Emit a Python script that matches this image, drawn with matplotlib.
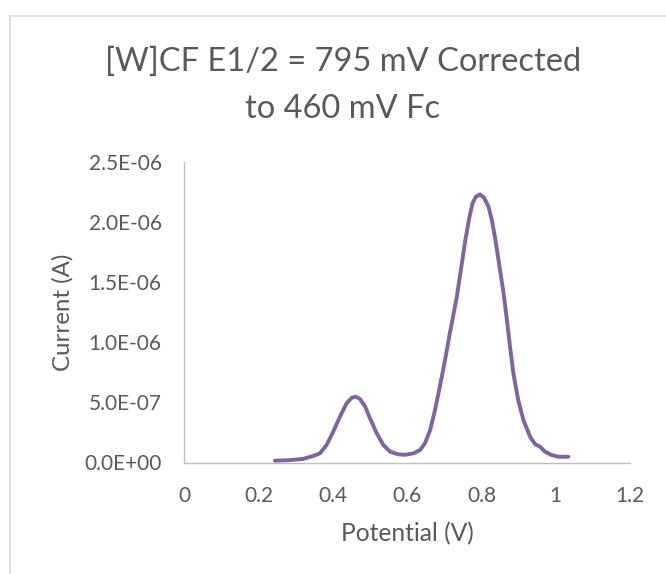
import matplotlib
matplotlib.use("Agg")
import matplotlib.pyplot as plt
from matplotlib.patches import Rectangle

# ---- data ----
potential_V = [0.244, 0.285, 0.320, 0.347, 0.365, 0.383, 0.401, 0.419, 0.437, 0.451,
               0.462, 0.473, 0.487, 0.500, 0.518, 0.536, 0.554, 0.576, 0.594, 0.617,
               0.635, 0.648, 0.662, 0.675, 0.688, 0.702, 0.715, 0.733, 0.744,
               0.756, 0.767, 0.776, 0.785, 0.796, 0.807, 0.819, 0.828, 0.837, 0.848,
               0.859, 0.868, 0.877, 0.886, 0.899, 0.913, 0.931, 0.945, 0.949, 0.958,
               0.971, 0.989, 1.007, 1.020, 1.034]
current_uA = [0.015, 0.020, 0.030, 0.054, 0.076, 0.145, 0.256, 0.381, 0.492, 0.539,
              0.547, 0.528, 0.464, 0.367, 0.243, 0.145, 0.090, 0.068, 0.064, 0.076,
              0.104, 0.160, 0.270, 0.436, 0.630, 0.852, 1.074, 1.365, 1.586,
              1.835, 2.030, 2.154, 2.209, 2.229, 2.201, 2.126, 2.015, 1.863, 1.641,
              1.420, 1.200, 0.962, 0.741, 0.519, 0.353, 0.214, 0.150, 0.145, 0.131,
              0.090, 0.062, 0.048, 0.048, 0.048]
current_A = [v * 1e-6 for v in current_uA]

x_ticks = [0, 0.2, 0.4, 0.6, 0.8, 1.0, 1.2]
x_tick_labels = ["0", "0.2", "0.4", "0.6", "0.8", "1", "1.2"]
y_ticks = [0, 5e-7, 1e-6, 1.5e-6, 2e-6, 2.5e-6]
y_tick_labels = ["0.0E+00", "5.0E-07", "1.0E-06", "1.5E-06", "2.0E-06", "2.5E-06"]

title_lines = ["[W]CF E1/2 = 795 mV Corrected", "to 460 mV Fc"]
x_label = "Potential (V)"
y_label = "Current (A)"

# ---- style ----
W, H, DPI = 666, 574, 100
plt.rcParams['font.family'] = ['Lato', 'DejaVu Sans']
TXT = '#595959'
AXC = '#BFBFBF'
LINE = '#8064A2'

fig = plt.figure(figsize=(W / DPI, H / DPI), dpi=DPI)
fig.patch.set_facecolor('white')
renderer = fig.canvas.get_renderer()


def fit_size(text, target_px, base=20.0):
    """font size (pt) whose rendered text width equals target_px"""
    t = fig.text(0, 0, text, fontsize=base)
    w = t.get_window_extent(renderer).width
    t.remove()
    return base * target_px / w


title_fs = fit_size(title_lines[0], 477)
tick_fs = (fit_size("0.0E+00", 78.4) + fit_size("2.5E-06", 72.4) + fit_size("0.2", 29.0)) / 3
xlab_fs = fit_size(x_label, 133.3)
ylab_fs = fit_size(y_label, 117.0)

# chart-area border (cropped on right/bottom in reference)
fig.add_artist(Rectangle((10 / W, -0.1), 2.0, 1 - 15.7 / H + 0.1,
                         transform=fig.transFigure, fill=False,
                         edgecolor='#D9D9D9', linewidth=1.1))

left_px, right_px, top_px, bottom_px = 184.3, 630.0, 161.7, 462.5
ax = fig.add_axes([left_px / W, 1 - bottom_px / H,
                   (right_px - left_px) / W, (bottom_px - top_px) / H])

ax.plot(potential_V, current_A, color=LINE, linewidth=2.8,
        solid_joinstyle='round', solid_capstyle='round')

ax.set_xlim(0, 1.2)
ax.set_ylim(0, 2.5e-6)
ax.set_xticks(x_ticks)
ax.set_xticklabels(x_tick_labels)
ax.set_yticks(y_ticks)
ax.set_yticklabels(y_tick_labels)

for s in ['top', 'right']:
    ax.spines[s].set_visible(False)
for s in ['left', 'bottom']:
    ax.spines[s].set_color(AXC)
    ax.spines[s].set_linewidth(1.0)

px2pt = 72.0 / DPI
ax.tick_params(axis='both', length=0, labelsize=tick_fs, labelcolor=TXT)
ax.tick_params(axis='y', pad=(184.3 - 161.7) * px2pt)
ax.tick_params(axis='x', pad=(501.7 - bottom_px) * px2pt)
for lbl in ax.get_xticklabels():
    lbl.set_va('baseline')

ax.set_xlabel(x_label, fontsize=xlab_fs, color=TXT)
ax.xaxis.label.set_va('baseline')
ax.xaxis.set_label_coords(0.5, (bottom_px - 541.7) / (bottom_px - top_px))
ax.set_ylabel(y_label, fontsize=ylab_fs, color=TXT)
ax.yaxis.label.set_va('center')
ax.yaxis.set_label_coords((62.5 - left_px) / (right_px - left_px), 0.5)

# title, two lines centred on the chart area
fig.text(343 / W, 1 - 70.7 / H, title_lines[0], ha='center', va='baseline',
         fontsize=title_fs, color=TXT)
fig.text(343 / W, 1 - 118.0 / H, title_lines[1], ha='center', va='baseline',
         fontsize=title_fs, color=TXT)

fig.savefig('out.png', dpi=DPI, facecolor='white')
